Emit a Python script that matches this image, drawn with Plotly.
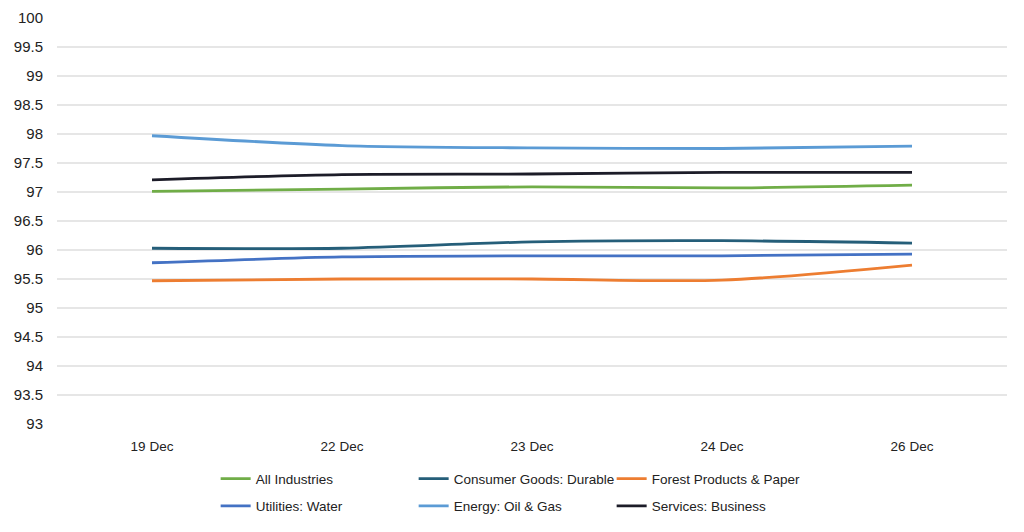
import plotly.graph_objects as go

dates = ["19 Dec", "22 Dec", "23 Dec", "24 Dec", "26 Dec"]
all_industries = [97.01, 97.05, 97.09, 97.07, 97.12]
consumer_durable = [96.03, 96.03, 96.14, 96.16, 96.12]
forest_paper = [95.47, 95.50, 95.50, 95.48, 95.74]
utilities_water = [95.78, 95.88, 95.90, 95.90, 95.93]
energy_oil_gas = [97.97, 97.80, 97.76, 97.75, 97.79]
services_business = [97.21, 97.30, 97.31, 97.34, 97.34]
y_ticks = [93 + 0.5 * i for i in range(15)]

series = [
    ("All Industries", all_industries, "#70ad47", "legend"),
    ("Consumer Goods: Durable", consumer_durable, "#255e79", "legend"),
    ("Forest Products & Paper", forest_paper, "#ed7d31", "legend"),
    ("Utilities: Water", utilities_water, "#4472c4", "legend2"),
    ("Energy: Oil & Gas", energy_oil_gas, "#5b9bd5", "legend2"),
    ("Services: Business", services_business, "#1c1c28", "legend2"),
]

fig = go.Figure()
for name, vals, color, lg in series:
    fig.add_trace(go.Scatter(
        x=dates, y=vals, name=name, mode="lines", legend=lg,
        line=dict(color=color, width=2.8, shape="spline", smoothing=0.8),
    ))

legend_font = dict(family="Liberation Sans, Arial", size=13.5, color="#222222")
legend_common = dict(
    orientation="h", xanchor="left", yanchor="middle",
    entrywidth=153, entrywidthmode="pixels", itemwidth=30,
    font=legend_font, bgcolor="rgba(0,0,0,0)", borderwidth=0,
)

fig.update_layout(
    width=1016, height=524,
    margin=dict(l=49, r=17, t=10, b=108, autoexpand=False),
    paper_bgcolor="white", plot_bgcolor="white",
    showlegend=True,
    legend=dict(x=0.167, y=-0.135, **legend_common),
    legend2=dict(x=0.167, y=-0.202, **legend_common),
    xaxis=dict(
        type="category", range=[-0.5, 4.5], showgrid=False, zeroline=False,
        showline=False, ticks="", ticklabelstandoff=12,
        tickfont=dict(family="Liberation Sans, Arial", size=13.5, color="#222222"),
    ),
    yaxis=dict(
        range=[93, 100], tickvals=y_ticks, ticktext=[f"{v:g}" for v in y_ticks],
        showgrid=True, gridcolor="#e6e6e6", gridwidth=1.5, zeroline=False,
        showline=False, ticks="", ticklabelstandoff=13,
        tickfont=dict(family="Liberation Sans, Arial", size=15, color="#222222"),
    ),
)

fig.write_html("out.html")
